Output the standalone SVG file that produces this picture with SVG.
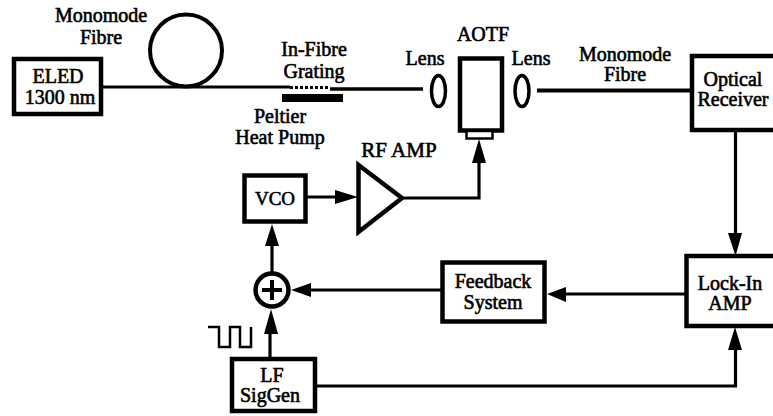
<svg xmlns="http://www.w3.org/2000/svg" width="773" height="416" viewBox="0 0 773 416">
<style>
text{font-family:"Liberation Serif","Times New Roman",serif;font-size:20px;fill:#000;stroke:#000;stroke-width:.6px;text-anchor:middle}
.b{fill:#fff;stroke:#000;stroke-width:4.500}
.w{fill:none;stroke:#000;stroke-width:3.200}
.a{fill:#000;stroke:none}
</style>
<rect width="773" height="416" fill="#fff"/>
<g id="connectors">
<path class="w" d="M103 87H290"/>
<path d="M290 87.500H330" fill="none" stroke="#000" stroke-width="3" stroke-dasharray="3 2"/>
<path class="w" style="stroke-width:3.500" d="M330 89H423"/>
<path class="w" style="stroke-width:4" d="M537 90.500H690"/>
<path class="w" d="M735.500 131V235"/>
<polygon class="a" points="728,233 742,233 735.500,256"/>
<path class="w" d="M735.500 350V386H316"/>
<polygon class="a" points="735,327 742,350 728,350"/>
<path class="w" d="M685 294H560"/>
<polygon class="a" points="547,294 566,287 566,302"/>
<path class="w" d="M441 290H305"/>
<polygon class="a" points="291,290 311,283 311,297"/>
<path class="w" d="M272 272V240"/>
<polygon class="a" points="272,224 279,246 265,246"/>
<path class="w" d="M270 357V330"/>
<polygon class="a" points="271,309 278,334 264,334"/>
<path class="w" d="M307 197H340"/>
<polygon class="a" points="358,197 335,190 335,204"/>
<path class="w" d="M404 198H479V160"/>
<polygon class="a" points="479,139 486,163 472,163"/>
<path class="w" d="M208 327H219V347H230V327H240V347H251V327" style="stroke-width:2.500"/>
</g>
<g id="eled"><rect class="b" x="14" y="59" width="87" height="55"/><text x="58" y="83">ELED</text><text x="60" y="104">1300 nm</text></g>
<g id="fibre-coil"><circle cx="186" cy="50.500" r="36" fill="none" stroke="#000" stroke-width="4"/><text x="101" y="22">Monomode</text><text x="101" y="44">Fibre</text></g>
<g id="grating"><rect class="a" x="282" y="94" width="61" height="8"/><text x="314" y="56">In-Fibre</text><text x="314" y="78">Grating</text><text x="280" y="123">Peltier</text><text x="280" y="144">Heat Pump</text></g>
<g id="lens-left"><ellipse cx="438.500" cy="91" rx="7" ry="15.500" fill="none" stroke="#000" stroke-width="3.500"/><text x="425" y="65">Lens</text></g>
<g id="aotf"><rect class="b" x="460" y="58.500" width="42" height="72"/><rect x="466.500" y="131" width="26" height="7.500" fill="#fff" stroke="#000" stroke-width="2.500"/><text x="483" y="41">AOTF</text></g>
<g id="lens-right"><ellipse cx="522" cy="91" rx="7" ry="15.500" fill="none" stroke="#000" stroke-width="3.500"/><text x="531" y="65">Lens</text></g>
<g id="fibre-label"><text x="625" y="61">Monomode</text><text x="625" y="81">Fibre</text></g>
<g id="receiver"><path d="M776 56H692V130H776" fill="#fff" stroke="#000" stroke-width="4.500"/><text x="733" y="86">Optical</text><text x="733" y="106">Receiver</text></g>
<g id="lock-in"><path d="M776 256H686.500V326H776" fill="#fff" stroke="#000" stroke-width="4.500"/><text x="730" y="290">Lock-In</text><text x="730" y="310">AMP</text></g>
<g id="feedback"><rect class="b" x="442.500" y="262.500" width="102" height="59"/><text x="493" y="288">Feedback</text><text x="493" y="309">System</text></g>
<g id="vco"><rect class="b" x="244.500" y="175.500" width="61" height="46"/><text x="275" y="205" style="font-size:19px">VCO</text></g>
<g id="rf-amp"><polygon points="358.500,165 358.500,232 402,198" fill="#fff" stroke="#000" stroke-width="4.500"/><text x="399" y="157" style="font-size:21px">RF AMP</text></g>
<g id="summer"><circle cx="272" cy="290" r="16.500" fill="#fff" stroke="#000" stroke-width="4.500"/><path d="M272 280V300M262 290H282" stroke="#000" stroke-width="4" fill="none"/></g>
<g id="lf-siggen"><rect class="b" x="232" y="359" width="83" height="52"/><text x="272" y="382">LF</text><text x="270" y="402">SigGen</text></g>
</svg>
